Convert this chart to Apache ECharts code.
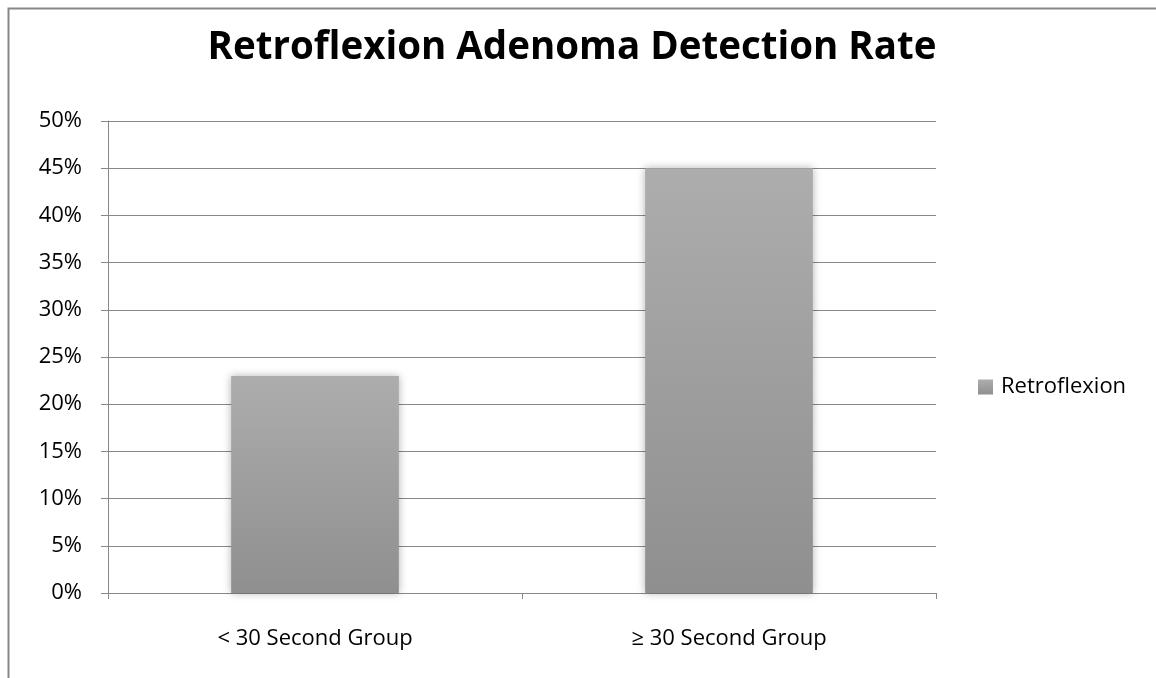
<!DOCTYPE html>
<html><head><meta charset="utf-8">
<script src="https://cdn.jsdelivr.net/npm/echarts@6/dist/echarts.min.js"></script>
<style>html,body{margin:0;padding:0;background:#fff}#c{width:1156px;height:678px}</style>
</head><body><div id="c"></div>
<script>
const categories = ['< 30 Second Group', '≥ 30 Second Group'];
const seriesName = 'Retroflexion';
const values = [23, 45];
const yTicks = [0, 5, 10, 15, 20, 25, 30, 35, 40, 45, 50];

const chart = echarts.init(document.getElementById('c'));
const font = '"Open Sans", "Noto Sans", sans-serif';
chart.setOption({
  animation: false,
  backgroundColor: '#fff',
  title: {
    text: 'Retroflexion Adenoma Detection Rate',
    left: 567, top: 24, textAlign: 'center',
    textStyle: {fontFamily: font, fontWeight: 'bold', fontSize: 38.5, color: '#000'}
  },
  graphic: [{
    type: 'rect', left: 6, top: 6, shape: {width: 1200, height: 720},
    style: {fill: 'none', stroke: '#878787', lineWidth: 2}, silent: true, z: 100
  }],
  legend: {
    left: 978, top: 376, orient: 'vertical', padding: 0,
    itemWidth: 15, itemHeight: 15, itemGap: 8,
    icon: 'rect',
    textStyle: {fontFamily: font, fontSize: 22, color: '#000', padding: [0,0,0,3]},
    data: [seriesName]
  },
  grid: {left: 108, right: 220, top: 121, bottom: 85, containLabel: false},
  xAxis: {
    type: 'category', data: categories,
    axisLine: {lineStyle: {color: '#888', width: 1}},
    axisTick: {show: true, alignWithLabel: false, length: 6, lineStyle: {color: '#888'}},
    axisLabel: {fontFamily: font, fontSize: 22, color: '#000', margin: 35}
  },
  yAxis: {
    type: 'value', min: 0, max: 50, interval: 5,
    axisLine: {show: true, lineStyle: {color: '#888', width: 1}},
    axisTick: {show: true, length: 7, lineStyle: {color: '#888'}},
    splitLine: {lineStyle: {color: '#888', width: 1}},
    axisLabel: {fontFamily: font, fontSize: 22, color: '#000', margin: 26, formatter: v => yTicks.includes(v) ? v + '%' : ''}
  },
  series: [{
    name: seriesName, type: 'bar', data: values, barWidth: '40.5%',
    itemStyle: {
      color: new echarts.graphic.LinearGradient(0, 0, 0, 1, [
        {offset: 0, color: '#adadad'}, {offset: 1, color: '#8f8f8f'}
      ]),
      shadowBlur: 8, shadowColor: 'rgba(0,0,0,0.3)'
    }
  }]
});
</script></body></html>
